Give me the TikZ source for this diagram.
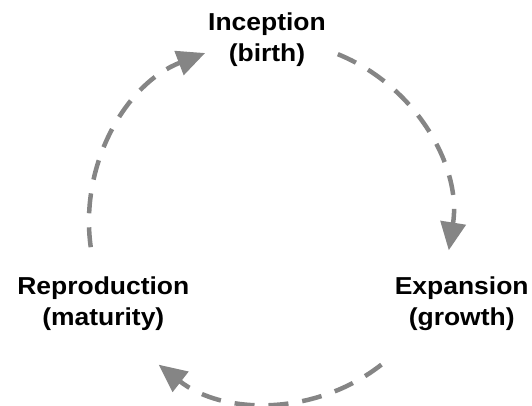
\documentclass[tikz,border=0pt]{standalone}
\usepackage{fontspec}
\setmainfont{Liberation Sans}[FakeStretch=1.08]
\usetikzlibrary{arrows.meta}
\definecolor{cyc}{HTML}{858585}
\tikzset{
  lbl/.style={font=\fontsize{24.5}{31}\selectfont\bfseries, align=center, inner sep=0pt, text=black, anchor=base},
  cyclearc/.style={draw=cyc, line width=4.5pt, dash pattern=on 20pt off 14pt,
     -{Triangle[length=28pt,width=25pt,fill=cyc]}}
}
\begin{document}
\begin{tikzpicture}[x=1pt,y=1pt]
\useasboundingbox (0,0) rectangle (532,-405);
\coordinate (c) at (270,-222);
\node[lbl] (inc) at (267,-61.7) {Inception\\(birth)};
\node[lbl] (exp) at (461.7,-325) {Expansion\\(growth)};
\node[lbl] (rep) at (103.3,-325) {Reproduction\\(maturity)};
\draw[cyclearc] ([shift={(68:181)}]c) arc[start angle=68, end angle=-9, radius=181];
\draw[cyclearc] ([shift={(-52:181)}]c) arc[start angle=-52, end angle=-128, radius=181];
\draw[cyclearc] ([shift={(188:181)}]c) arc[start angle=188, end angle=111, radius=181];
\end{tikzpicture}
\end{document}
